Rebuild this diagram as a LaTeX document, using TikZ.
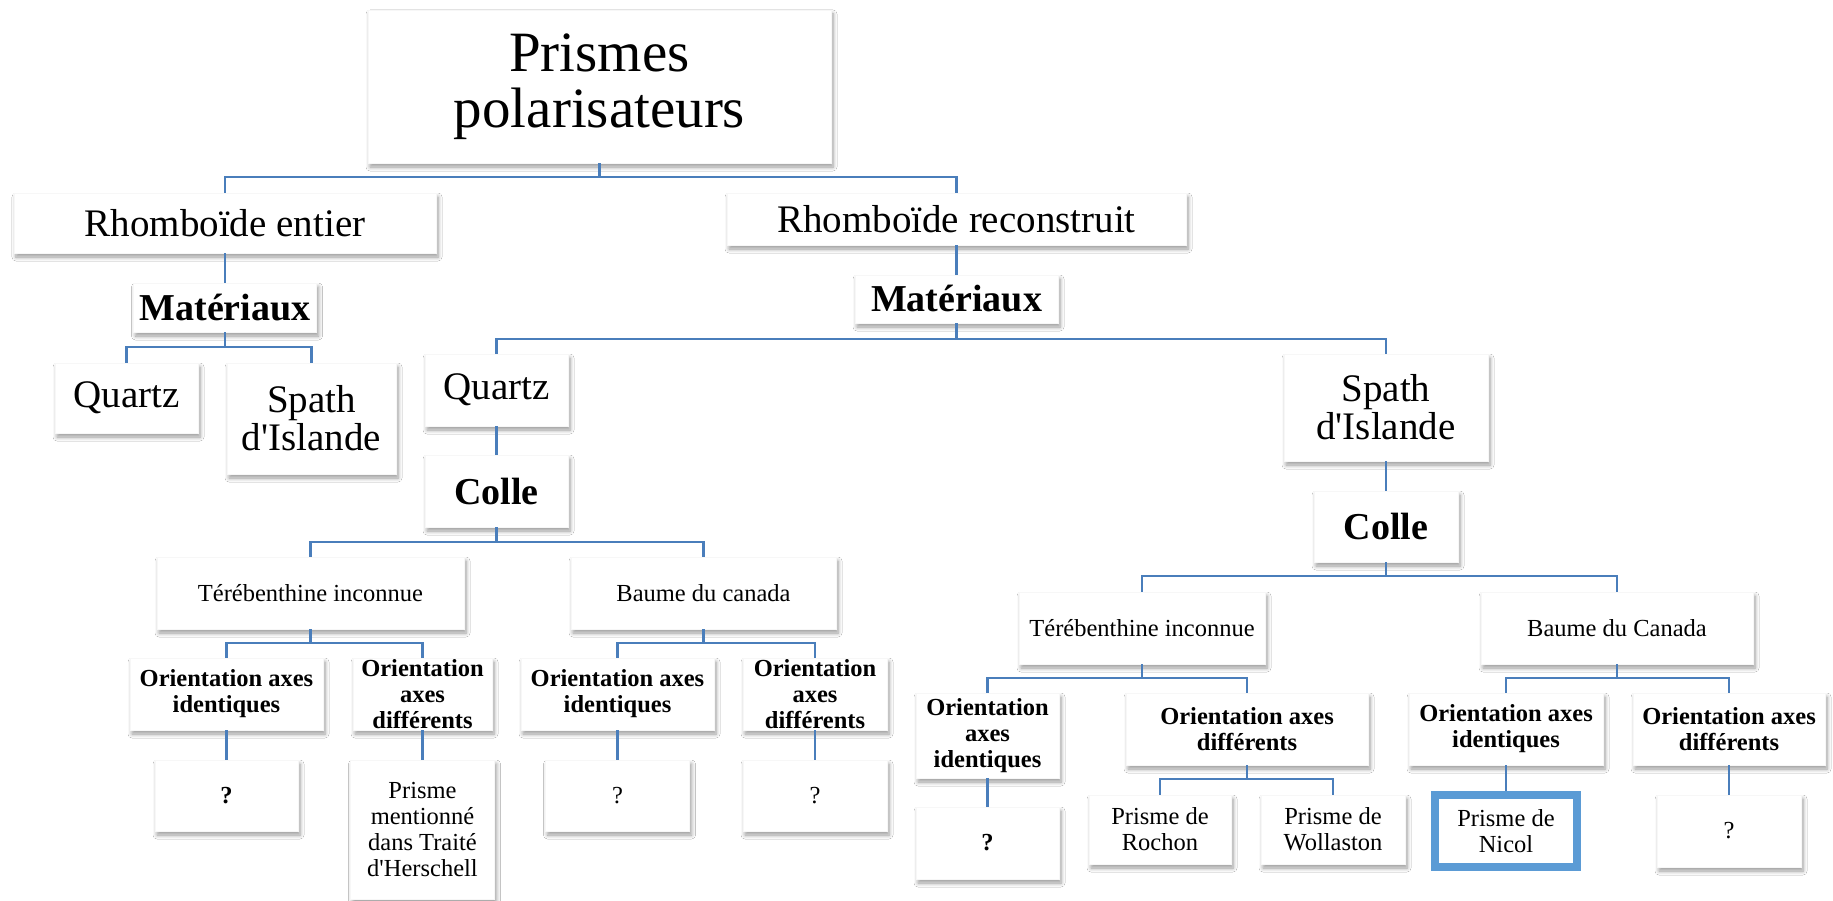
\documentclass[tikz,border=0pt]{standalone}
\usepackage{fontspec}
\setmainfont{Liberation Serif}
\usetikzlibrary{shadows.blur}
\definecolor{connc}{HTML}{4A7EBB}
\definecolor{nicolc}{HTML}{5B9BD5}
\newcommand{\apos}{\textquotesingle}
\tikzset{
 box/.style={fill=white, draw=black!3, line width=0.5pt, inner sep=0pt, align=center,
   blur shadow={shadow xshift=2pt, shadow yshift=-4pt, shadow blur radius=4pt, shadow blur steps=6, shadow opacity=40}},
 conn/.style={draw=connc, line width=2.4pt},
 ft/.style={font=\fontsize{57}{56}\selectfont},
 fm/.style={font=\fontsize{39}{38}\selectfont},
 fmb/.style={font=\fontsize{38}{38}\selectfont\bfseries},
 fs/.style={font=\fontsize{24.5}{26}\selectfont},
 fsb/.style={font=\fontsize{24.5}{26}\selectfont\bfseries},
 sz/.style 2 args={minimum width=#1, minimum height=#2},
}
\begin{document}
\begin{tikzpicture}[x=1pt,y=-1pt]
\useasboundingbox[fill=white] (0,0) rectangle (1833,901);
\node[box,ft,sz={463}{153}] (top) at (599.5,86.5) {Prismes\\polarisateurs};
\node[box,fm,sz={422}{60}] (rent) at (225,223) {Rhomboïde entier};
\node[box,fm,sz={459}{52}] (rrec) at (956.5,219) {Rhomboïde reconstruit};
\node[box,fmb,sz={183}{49}] (matL) at (225,307.5) {Matériaux};
\node[box,fmb,sz={203}{48}] (matR) at (956.5,299) {Matériaux};
\node[box,fm,sz={143}{70}] (quartzL) at (126.5,398) {Quartz};
\node[box,fm,sz={169}{111}] (spathL) at (311.5,418.5) {Spath\\d\apos Islande};
\node[box,fm,sz={143}{72}] (quartzR) at (496.5,390) {Quartz};
\node[box,fm,sz={204}{107}] (spathR) at (1386,407.5) {Spath\\d\apos Islande};
\node[box,fmb,sz={143}{72}] (colleL) at (496.5,491) {Colle};
\node[box,fmb,sz={144}{71}] (colleR) at (1386,526.5) {Colle};
\node[box,fs,sz={307}{72}] (terL) at (310.5,593) {Térébenthine inconnue};
\node[box,fs,sz={265}{72}] (baumeL) at (703.5,593) {Baume du canada};
\node[box,fsb,sz={193}{72}] (oL1) at (226.5,694) {Orientation axes\\identiques};
\node[box,fsb,sz={139}{72}] (oL2) at (422.5,694) {Orientation\\axes\\différents};
\node[box,fsb,sz={193}{72}] (oL3) at (617.5,694) {Orientation axes\\identiques};
\node[box,fsb,sz={144}{72}] (oL4) at (815,694) {Orientation\\axes\\différents};
\node[box,fsb,sz={143}{71}] (qL1) at (226.5,795.5) {?};
\node[box,fs,sz={144}{139}] (prM) at (422.5,829.5) {Prisme\\mentionné\\dans Traité\\d\apos Herschell};
\node[box,fs,sz={144}{71}] (qL3) at (617.5,795.5) {?};
\node[box,fs,sz={144}{71}] (qL4) at (815,795.5) {?};
\node[box,fs,sz={246}{72}] (terR) at (1142,628) {Térébenthine inconnue};
\node[box,fs,sz={272}{72}] (baumeR) at (1617,628) {Baume du Canada};
\node[box,fsb,sz={143}{85}] (oR1) at (987.5,735.5) {Orientation\\axes\\identiques};
\node[box,fsb,sz={242}{72}] (oR2) at (1247,729) {Orientation axes\\différents};
\node[box,fsb,sz={194}{72}] (oR3) at (1506,729) {Orientation axes\\identiques};
\node[box,fsb,sz={192}{72}] (oR4) at (1729,729) {Orientation axes\\différents};
\node[box,fsb,sz={143}{72}] (qR1) at (987.5,843) {?};
\node[box,fs,sz={142}{69}] (roch) at (1160,829.5) {Prisme de\\Rochon};
\node[box,fs,sz={144}{69}] (woll) at (1333,829.5) {Prisme de\\Wollaston};
\node[fill=white,draw=nicolc,line width=8pt,fs,inner sep=0pt,align=center,sz={142}{72}] (nicol) at (1506,831) {Prisme de\\Nicol};
\node[box,fs,sz={144}{72}] (qR4) at (1729,831) {?};
% connectors
\draw[conn] (top.south) -- ++(0,14) -| (rent.north);
\draw[conn] (top.south) -- ++(0,14) -| (rrec.north);
\draw[conn] (rent.south) -- (matL.north);
\draw[conn] (rrec.south) -- (matR.north);
\draw[conn] (matL.south) -- ++(0,15) -| (quartzL.north);
\draw[conn] (matL.south) -- ++(0,15) -| (spathL.north);
\draw[conn] (matR.south) -- ++(0,16) -| (quartzR.north);
\draw[conn] (matR.south) -- ++(0,16) -| (spathR.north);
\draw[conn] (quartzR.south) -- (colleL.north);
\draw[conn] (spathR.south) -- (colleR.north);
\draw[conn] (colleL.south) -- ++(0,15) -| (terL.north);
\draw[conn] (colleL.south) -- ++(0,15) -| (baumeL.north);
\draw[conn] (colleR.south) -- ++(0,14) -| (terR.north);
\draw[conn] (colleR.south) -- ++(0,14) -| (baumeR.north);
\draw[conn] (terL.south) -- ++(0,14) -| (oL1.north);
\draw[conn] (terL.south) -- ++(0,14) -| (oL2.north);
\draw[conn] (baumeL.south) -- ++(0,14) -| (oL3.north);
\draw[conn] (baumeL.south) -- ++(0,14) -| (oL4.north);
\draw[conn] (terR.south) -- ++(0,14) -| (oR1.north);
\draw[conn] (terR.south) -- ++(0,14) -| (oR2.north);
\draw[conn] (baumeR.south) -- ++(0,14) -| (oR3.north);
\draw[conn] (baumeR.south) -- ++(0,14) -| (oR4.north);
\draw[conn] (oL1.south) -- (qL1.north);
\draw[conn] (oL2.south) -- (prM.north);
\draw[conn] (oL3.south) -- (qL3.north);
\draw[conn] (oL4.south) -- (qL4.north);
\draw[conn] (oR1.south) -- (qR1.north);
\draw[conn] (oR2.south) -- ++(0,14) -| (roch.north);
\draw[conn] (oR2.south) -- ++(0,14) -| (woll.north);
\draw[conn] (oR3.south) -- (nicol.north);
\draw[conn] (oR4.south) -- (qR4.north);
\end{tikzpicture}
\end{document}
